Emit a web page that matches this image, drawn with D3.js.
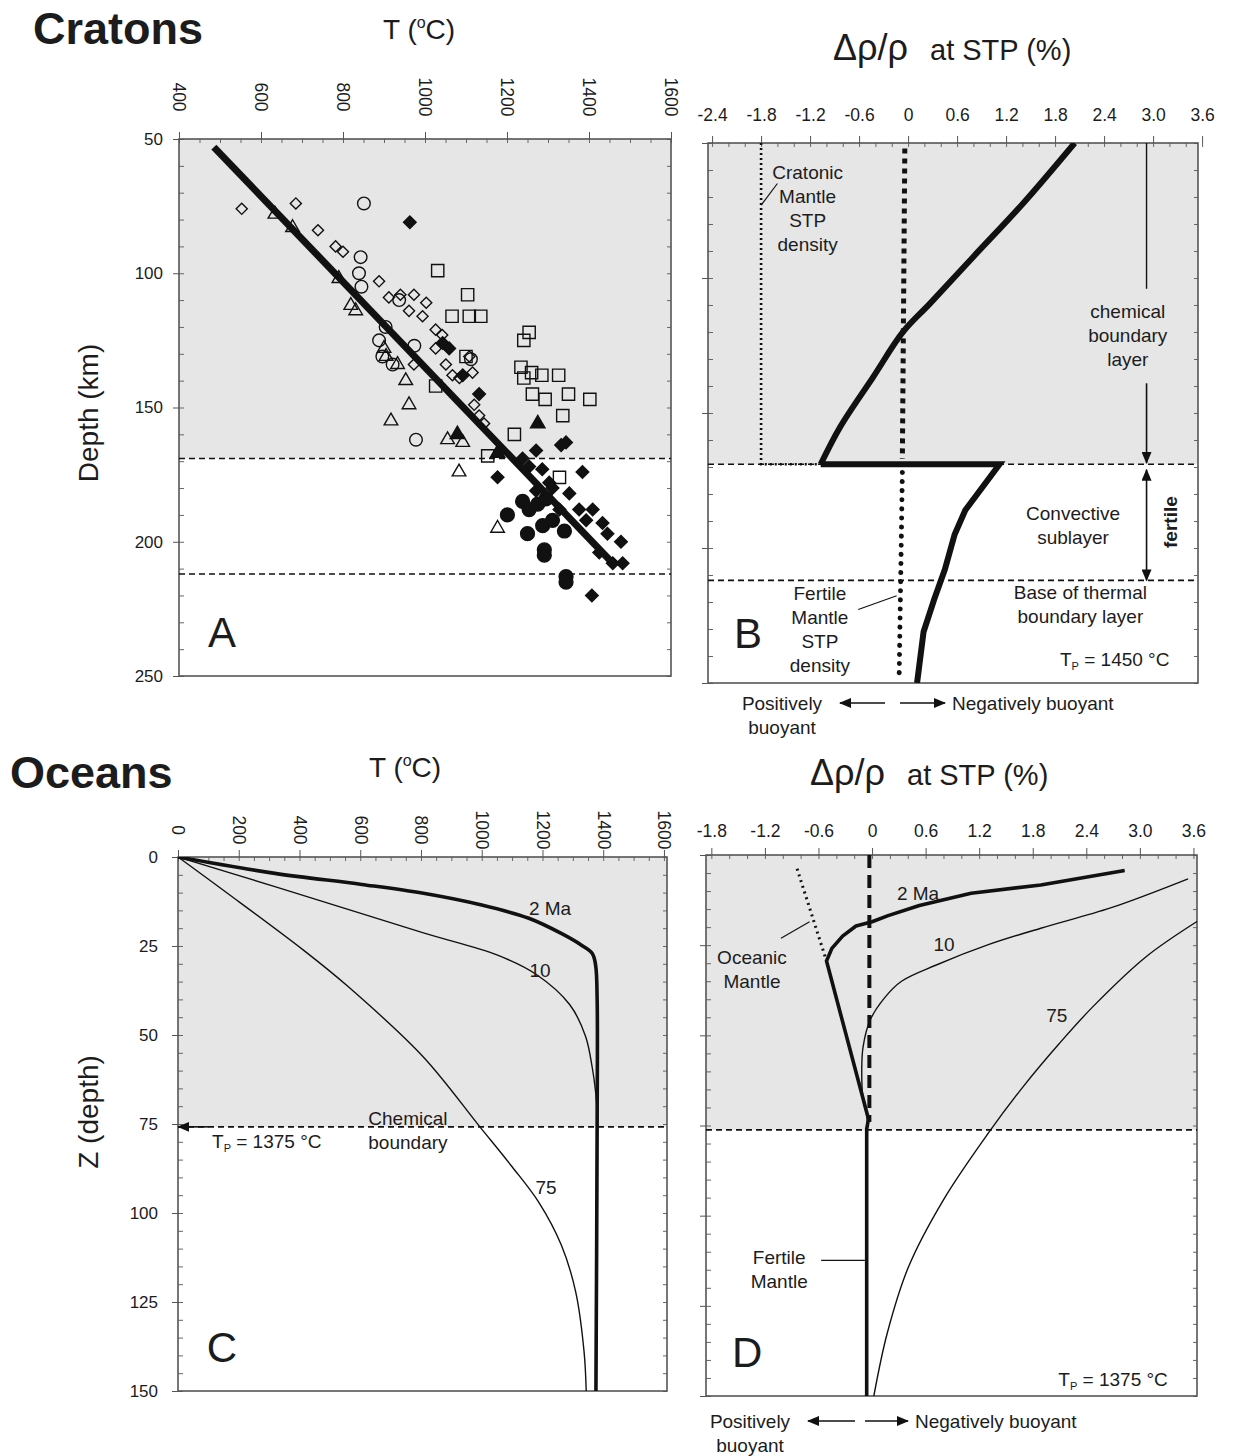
<!DOCTYPE html>
<html>
<head>
<meta charset="utf-8">
<script src="https://cdn.jsdelivr.net/npm/d3@7/dist/d3.min.js"></script>
<style>
body { margin: 0; background: #fff; }
svg text { font-family: "Liberation Sans", Arial, sans-serif; fill: #1c1c1c; }
</style>
</head>
<body>
<svg id="fig" width="1235" height="1456"></svg>
<script>
/* ---------------- data ---------------- */
// ticks
const T_TICKS_A = [400, 600, 800, 1000, 1200, 1400, 1600];
const Z_TICKS_A = [50, 100, 150, 200, 250];
const RHO_TICKS_B = [-2.4, -1.8, -1.2, -0.6, 0, 0.6, 1.2, 1.8, 2.4, 3.0, 3.6];
const T_TICKS_C = [0, 200, 400, 600, 800, 1000, 1200, 1400, 1600];
const Z_TICKS_C = [0, 25, 50, 75, 100, 125, 150];
const RHO_TICKS_D = [-1.8, -1.2, -0.6, 0, 0.6, 1.2, 1.8, 2.4, 3.0, 3.6];
const RHO_LABELS = {"-2.4":"-2.4","-1.8":"-1.8","-1.2":"-1.2","-0.6":"-0.6","0":"0","0.6":"0.6","1.2":"1.2","1.8":"1.8","2.4":"2.4","3":"3.0","3.6":"3.6"};

// panel A: xenolith P-T points [T degC, depth km]
const A_openDiamond = [[553,76],[685,74],[739,84],[782,90],[800,92],[888,103],[912,109],[940,108],[973,108],[1003,111],[961,114],[994,116],[1026,121],[1042,123],[973,134],[1067,138],[1116,137],[1120,149],[1132,153],[1144,156],[1026,128],[1051,134],[1084,139],[1108,131]];
const A_openTriangle = [[634,78],[677,83],[790,102],[819,112],[831,114],[905,131],[933,134],[953,140],[961,149],[917,155],[1055,162],[1092,163],[1083,174],[1177,195],[900,128]];
const A_openCircle = [[851,74],[843,94],[839,100],[845,105],[937,110],[904,120],[888,125],[896,131],[921,134],[974,127],[978,162],[1112,132]];
const A_openSquare = [[1031,99],[1104,108],[1066,116],[1108,116],[1136,116],[1254,122],[1241,125],[1234,135],[1241,139],[1260,137],[1285,138],[1326,138],[1262,145],[1293,147],[1350,145],[1402,147],[1336,153],[1026,142],[1218,160],[1153,168],[1328,176],[1100,131]];
const A_filledDiamond = [[963,81],[1043,126],[1059,128],[1092,138],[1132,145],[1177,176],[1238,169],[1271,166],[1254,172],[1286,173],[1332,164],[1344,163],[1384,174],[1303,178],[1271,181],[1311,180],[1352,182],[1328,188],[1376,188],[1409,188],[1393,192],[1433,193],[1445,197],[1478,200],[1425,204],[1458,208],[1482,208],[1407,220]];
const A_filledCircle = [[1201,190],[1238,185],[1254,188],[1275,186],[1295,184],[1250,197],[1287,194],[1311,192],[1340,196],[1291,203],[1291,205],[1344,213],[1344,215]];
const A_filledTriangle = [[1275,156],[1079,160],[1177,167]];
const A_geotherm = [[485,53],[1458,208]];
const A_levels = [169, 212];

// panel B: density contrast [drho %, depth km]
const B_cratonTop = [[2.04,50],[1.41,72.3],[0.80,92.1],[0.27,109.4],[-0.06,119.9],[-0.43,136.8],[-0.83,155.1],[-1.07,169]];
const B_cratonBottom = [[-1.07,169],[1.12,169],[0.70,186],[0.57,195],[0.45,208],[0.32,219],[0.19,231],[0.11,250]];
const B_cratonicSTP = [[-1.8,50],[-1.8,169],[-1.1,169]];
const B_fertileUpper = [[-0.04,52],[-0.07,167]];
const B_fertileLower = [[-0.07,172],[-0.11,249]];
const B_levels = [169, 212];

// panel C: ocean geotherms [T degC, depth km]
const C_2Ma = [[0,0],[319,4.6],[605,7.7],[808,10.2],[1000,13.5],[1155,17.2],[1265,21.6],[1331,24.9],[1364,27.1],[1375,30.4],[1380,40],[1380,75],[1376,150]];
const C_10Ma = [[0,0],[319,8.3],[808,21.3],[1050,27.5],[1180,33],[1290,41.5],[1342,50.4],[1364,59.2],[1375,66],[1380,72]];
const C_75Ma = [[0,0],[155,9.7],[412,26.1],[560,36.4],[807,56.1],[994,75.8],[1100,87],[1188,97],[1262,109],[1309,122],[1337,139],[1344,150]];
const C_level = 75.8;

// panel D: ocean density contrast [drho %, depth km]
const D_2Ma = [[2.83,4.3],[1.89,8.3],[1.11,10.6],[0.53,14],[0.18,16.8],[0,18.5],[-0.18,19.7],[-0.33,22.5],[-0.45,25.9],[-0.51,29.4],[-0.04,73.2],[-0.06,76],[-0.06,150]];
const D_10Ma = [[3.54,6.6],[2.68,14.6],[1.89,20.3],[1.31,24.8],[0.72,30.5],[0.33,35],[0.14,39.6],[-0.02,45.7],[-0.1,53.1],[-0.115,58.7],[-0.1,67.9],[-0.06,72],[-0.05,75]];
const D_75Ma = [[3.7,17.5],[3.07,28.2],[2.48,41.9],[2.1,52.2],[1.7,64],[1.3,77.2],[0.8,95.6],[0.41,114.1],[0.17,132.6],[0.02,150]];
const D_oceanicMantle = [[-0.84,3.8],[-0.51,29.4]];
const D_fertile = [[-0.03,0],[-0.03,74]];
const D_level = 76.2;

/* ---------------- layout ---------------- */
const PANEL = {
    A: {x0: 179, x1: 671, y0: 139, y1: 676, xdom: [400, 1600], ydom: [50, 250], shade: 169},
    B: {x0: 708, x1: 1198, y0: 143, y1: 683, xdom: [-2.45, 3.55], ydom: [50, 250], shade: 169},
    C: {x0: 178, x1: 667, y0: 857, y1: 1391, xdom: [0, 1610], ydom: [0, 150], shade: 75.8},
    D: {x0: 706, x1: 1197, y0: 855, y1: 1396, xdom: [-1.86, 3.64], ydom: [0, 150], shade: 76.2},
};
const ANNOT_SIZE = 19;

const svg = d3.select("#fig");
const defs = svg.append("defs");
defs.append("marker")
    .attr("id", "ah")
    .attr("viewBox", "0 0 12 10")
    .attr("refX", 11).attr("refY", 5)
    .attr("markerWidth", 12).attr("markerHeight", 10)
    .attr("markerUnits", "userSpaceOnUse")
    .attr("orient", "auto-start-reverse")
    .append("path").attr("d", "M0,0L12,5L0,10z").attr("fill", "#111");

var range = function(a, b, s){ return d3.range(a, b + s/2, s).map(v => +v.toFixed(3)); };
const smooth = d3.curveCatmullRom.alpha(0.5);

var makePanel = function(key, minorX, minorY){
    const c = PANEL[key];
    const g = svg.append("g").attr("id", "panel" + key);
    const x = d3.scaleLinear().domain(c.xdom).range([c.x0, c.x1]);
    const y = d3.scaleLinear().domain(c.ydom).range([c.y0, c.y1]);
    g.append("clipPath").attr("id", "clip" + key)
     .append("rect").attr("x", c.x0).attr("y", c.y0).attr("width", c.x1 - c.x0).attr("height", c.y1 - c.y0);
    g.append("rect")
     .attr("x", c.x0).attr("y", c.y0)
     .attr("width", c.x1 - c.x0).attr("height", y(c.shade) - c.y0)
     .attr("fill", "#e6e6e6");
    // minor ticks, inward
    g.append("g").attr("class", "minor").attr("transform", "translate(0," + c.y0 + ")")
     .call(d3.axisTop(x).tickValues(minorX).tickSize(-4).tickFormat(""));
    g.append("g").attr("class", "minor").attr("transform", "translate(" + c.x0 + ",0)")
     .call(d3.axisLeft(y).tickValues(minorY).tickSize(-5).tickFormat(""));
    g.append("g").attr("class", "minor").attr("transform", "translate(" + c.x1 + ",0)")
     .call(d3.axisRight(y).tickValues(minorY).tickSize(-4).tickFormat(""));
    g.selectAll(".minor .domain").remove();
    g.selectAll(".minor line").attr("stroke", "#666").attr("stroke-width", 1);
    g.append("rect")
     .attr("x", c.x0).attr("y", c.y0)
     .attr("width", c.x1 - c.x0).attr("height", c.y1 - c.y0)
     .attr("fill", "none").attr("stroke", "#555").attr("stroke-width", 1.6);
    const plot = g.append("g").attr("clip-path", "url(#clip" + key + ")");
    return {g: g, plot: plot, x: x, y: y, c: c};
};

var topAxis = function(p, ticks, fmt, rotate, offset){
    const ax = p.g.append("g").attr("transform", "translate(0," + p.c.y0 + ")")
                  .call(d3.axisTop(p.x).tickValues(ticks).tickSize(7).tickFormat(fmt));
    ax.select(".domain").remove();
    ax.selectAll("line").attr("stroke", "#555");
    ax.selectAll("text").attr("font-size", 17.5).attr("fill", "#1c1c1c");
    if (rotate) {
        ax.selectAll("text")
          .attr("transform", "rotate(90)")
          .attr("x", offset).attr("y", 0).attr("dy", "0.35em")
          .attr("text-anchor", "middle");
    } else {
        ax.selectAll("text").attr("y", offset);
    }
};

var leftAxis = function(p, ticks, labelled, offset){
    const ax = p.g.append("g").attr("transform", "translate(" + p.c.x0 + ",0)")
                  .call(d3.axisLeft(p.y).tickValues(ticks).tickSize(6).tickFormat(labelled ? d3.format("d") : ""));
    ax.select(".domain").remove();
    ax.selectAll("line").attr("stroke", "#555");
    ax.selectAll("text").attr("font-size", 17).attr("fill", "#1c1c1c").attr("x", offset);
};

var drawLine = function(p, data, style, curve){
    const gen = d3.line().x(d => p.x(d[0])).y(d => p.y(d[1])).curve(curve || d3.curveLinear);
    const path = p.plot.append("path").datum(data).attr("d", gen).attr("fill", "none").attr("stroke", "#111");
    Object.keys(style).forEach(k => path.attr(k, style[k]));
    return path;
};

var hLevel = function(p, depth){
    p.g.append("line")
       .attr("x1", p.c.x0).attr("x2", p.c.x1)
       .attr("y1", p.y(depth)).attr("y2", p.y(depth))
       .attr("stroke", "#111").attr("stroke-width", 1.6).attr("stroke-dasharray", "6,4");
};

var textBlock = function(g, px, py, lines, opts){
    opts = opts || {};
    const t = g.append("text")
               .attr("x", px).attr("y", py)
               .attr("font-size", opts.size || ANNOT_SIZE)
               .attr("text-anchor", opts.anchor || "middle")
               .attr("font-weight", opts.weight || "normal");
    lines.forEach((s, i) => {
        t.append("tspan").attr("x", px).attr("dy", i === 0 ? "0.35em" : (opts.lh || 24) + "px").text(s);
    });
    return t;
};

var tpLabel = function(g, px, py, value, anchor){
    const t = g.append("text").attr("x", px).attr("y", py).attr("font-size", ANNOT_SIZE)
               .attr("text-anchor", anchor || "middle").attr("dy", "0.35em");
    t.append("tspan").text("T");
    t.append("tspan").attr("font-size", 11).attr("dy", "4").text("P");
    t.append("tspan").attr("dy", "-4").text(" = " + value + " \u00B0C");
};

var arrow = function(g, x1, y1, x2, y2, both){
    const l = g.append("line").attr("x1", x1).attr("y1", y1).attr("x2", x2).attr("y2", y2)
               .attr("stroke", "#111").attr("stroke-width", 1.6).attr("marker-end", "url(#ah)");
    if (both) l.attr("marker-start", "url(#ah)");
};

/* ---------------- titles ---------------- */
svg.append("text").attr("x", 33).attr("y", 44).attr("font-size", 45).attr("font-weight", "bold").text("Cratons");
svg.append("text").attr("x", 10).attr("y", 788).attr("font-size", 45).attr("font-weight", "bold").text("Oceans");

var tTitle = function(x, y){
    const t = svg.append("text").attr("x", x).attr("y", y).attr("font-size", 28);
    t.append("tspan").text("T (");
    t.append("tspan").attr("font-size", 16).attr("dy", -11).text("o");
    t.append("tspan").attr("dy", 11).text("C)");
};
tTitle(383, 39);
tTitle(369, 777);

var rhoTitle = function(x, y){
    const t = svg.append("text").attr("x", x).attr("y", y).attr("font-size", 36);
    t.append("tspan").text("\u0394\u03C1/\u03C1");
    t.append("tspan").attr("font-size", 29).attr("dx", 22).text("at STP (%)");
};
rhoTitle(833, 60);
rhoTitle(810, 785);

svg.append("text").attr("transform", "translate(98,413) rotate(-90)")
   .attr("text-anchor", "middle").attr("font-size", 28).text("Depth (km)");
svg.append("text").attr("transform", "translate(98,1112) rotate(-90)")
   .attr("text-anchor", "middle").attr("font-size", 28).text("Z (depth)");

/* ---------------- panel A ---------------- */
const pA = makePanel("A", range(400, 1600, 50), range(50, 250, 10));
topAxis(pA, T_TICKS_A, d3.format("d"), true, -42);
leftAxis(pA, Z_TICKS_A, true, -16);
A_levels.forEach(d => hLevel(pA, d));

const SYM = [
    {data: A_openDiamond,   type: d3.symbolSquare,   size: 62,  rot: 45, fill: "none"},
    {data: A_openTriangle,  type: d3.symbolTriangle, size: 80,  rot: 0,  fill: "none"},
    {data: A_openCircle,    type: d3.symbolCircle,   size: 125, rot: 0,  fill: "none"},
    {data: A_openSquare,    type: d3.symbolSquare,   size: 150, rot: 0,  fill: "none"},
    {data: A_filledDiamond, type: d3.symbolSquare,   size: 80,  rot: 45, fill: "#111"},
    {data: A_filledCircle,  type: d3.symbolCircle,   size: 150, rot: 0,  fill: "#111"},
    {data: A_filledTriangle,type: d3.symbolTriangle, size: 90,  rot: 0,  fill: "#111"},
];
SYM.forEach(s => {
    pA.plot.append("g").selectAll("path")
       .data(s.data).enter().append("path")
       .attr("d", d3.symbol().type(s.type).size(s.size))
       .attr("transform", d => "translate(" + pA.x(d[0]) + "," + pA.y(d[1]) + ") rotate(" + s.rot + ")")
       .attr("fill", s.fill).attr("stroke", "#111").attr("stroke-width", 1.4);
});
drawLine(pA, A_geotherm, {"stroke-width": 7, "stroke-linecap": "butt"});
textBlock(pA.g, pA.x(505), pA.y(233.6), ["A"], {size: 42});

/* ---------------- panel B ---------------- */
const pB = makePanel("B", range(-2.4, 3.6, 0.2), range(50, 250, 10));
topAxis(pB, RHO_TICKS_B, d => RHO_LABELS[String(d)], false, -22);
leftAxis(pB, Z_TICKS_A, false, -10);
B_levels.forEach(d => hLevel(pB, d));
drawLine(pB, B_cratonicSTP, {"stroke-width": 2.6, "stroke-dasharray": "2,3"});
drawLine(pB, B_fertileUpper, {"stroke-width": 5, "stroke-dasharray": "5,5"});
drawLine(pB, B_fertileLower, {"stroke-width": 5, "stroke-dasharray": "0.1,9", "stroke-linecap": "round"});
drawLine(pB, B_cratonTop, {"stroke-width": 6}, smooth);
drawLine(pB, B_cratonBottom, {"stroke-width": 6, "stroke-linejoin": "miter"});
// leader lines
drawLine(pB, [[-1.8,73],[-1.6,65]], {"stroke-width": 1.2});
drawLine(pB, [[-0.61,222.8],[-0.14,217.7]], {"stroke-width": 1.2});
// boundary-layer arrows
const bx = pB.x(2.92);
pB.g.append("line").attr("x1", bx).attr("x2", bx).attr("y1", pB.y(50)).attr("y2", pB.y(104))
    .attr("stroke", "#111").attr("stroke-width", 1.4);
arrow(pB.g, bx, pB.y(139), bx, pB.y(168.5));
arrow(pB.g, bx, pB.y(171), bx, pB.y(212), true);
textBlock(pB.g, pB.x(-1.23), pB.y(60.7), ["Cratonic", "Mantle", "STP", "density"]);
textBlock(pB.g, pB.x(2.69), pB.y(112.2), ["chemical", "boundary", "layer"]);
textBlock(pB.g, pB.x(2.02), pB.y(187), ["Convective", "sublayer"]);
textBlock(pB.g, pB.x(2.11), pB.y(216.3), ["Base of thermal", "boundary layer"]);
textBlock(pB.g, pB.x(-1.08), pB.y(216.7), ["Fertile", "Mantle", "STP", "density"]);
textBlock(pB.g, pB.x(-1.96), pB.y(231.5), ["B"], {size: 42});
tpLabel(pB.g, pB.x(2.53), pB.y(241.1), 1450);
pB.g.append("text").attr("transform", "translate(" + pB.x(3.21) + "," + pB.y(190.4) + ") rotate(-90)")
    .attr("text-anchor", "middle").attr("dy", "0.35em").attr("font-size", ANNOT_SIZE).attr("font-weight", "bold").text("fertile");

var buoyancy = function(cx, y, lx1, lx2, rx1, rx2){
    textBlock(svg, cx, y, ["Positively", "buoyant"]);
    arrow(svg, lx1, y, lx2, y);
    arrow(svg, rx1, y, rx2, y);
    svg.append("text").attr("x", rx2 + 7).attr("y", y).attr("dy", "0.35em").attr("font-size", ANNOT_SIZE).text("Negatively buoyant");
};
buoyancy(782, 703, 885, 840, 900, 945);

/* ---------------- panel C ---------------- */
const pC = makePanel("C", range(0, 1600, 50), range(0, 150, 5));
topAxis(pC, T_TICKS_C, d3.format("d"), true, -27);
leftAxis(pC, Z_TICKS_C, true, -20);
hLevel(pC, C_level);
drawLine(pC, C_75Ma, {"stroke-width": 1.4}, smooth);
drawLine(pC, C_10Ma, {"stroke-width": 1.4}, smooth);
drawLine(pC, C_2Ma, {"stroke-width": 3.6}, smooth);
arrow(pC.g, pC.x(100), pC.y(C_level), pC.x(1), pC.y(C_level));
textBlock(pC.g, pC.x(1225), pC.y(14.3), ["2 Ma"]);
textBlock(pC.g, pC.x(1192), pC.y(31.7), ["10"]);
textBlock(pC.g, pC.x(1212), pC.y(92.7), ["75"]);
textBlock(pC.g, pC.x(757), pC.y(73.3), ["Chemical", "boundary"]);
tpLabel(pC.g, pC.x(112), pC.y(80), 1375, "start");
textBlock(pC.g, pC.x(145), pC.y(137.6), ["C"], {size: 42});

/* ---------------- panel D ---------------- */
const pD = makePanel("D", range(-1.8, 3.6, 0.2), range(0, 150, 5));
topAxis(pD, RHO_TICKS_D, d => RHO_LABELS[String(d)], false, -18);
leftAxis(pD, Z_TICKS_C, false, -10);
hLevel(pD, D_level);
drawLine(pD, D_fertile, {"stroke-width": 4, "stroke-dasharray": "13,7"});
drawLine(pD, D_oceanicMantle, {"stroke-width": 3, "stroke-dasharray": "2,4"});
drawLine(pD, D_75Ma, {"stroke-width": 1.4}, smooth);
drawLine(pD, D_10Ma, {"stroke-width": 1.4}, smooth);
drawLine(pD, D_2Ma, {"stroke-width": 3.6, "stroke-linejoin": "round"});
drawLine(pD, [[-1.02,23.1],[-0.7,18.5]], {"stroke-width": 1.2});
drawLine(pD, [[-0.57,112.4],[-0.08,112.4]], {"stroke-width": 1.2});
textBlock(pD.g, pD.x(0.515), pD.y(10.5), ["2 Ma"]);
textBlock(pD.g, pD.x(0.806), pD.y(24.7), ["10"]);
textBlock(pD.g, pD.x(2.07), pD.y(44.4), ["75"]);
textBlock(pD.g, pD.x(-1.345), pD.y(28.3), ["Oceanic", "Mantle"]);
textBlock(pD.g, pD.x(-1.04), pD.y(111.5), ["Fertile", "Mantle"]);
textBlock(pD.g, pD.x(-1.40), pD.y(137.8), ["D"], {size: 42});
tpLabel(pD.g, pD.x(2.70), pD.y(145.5), 1375);
buoyancy(750, 1421, 855, 808, 865, 908);
</script>
</body>
</html>
